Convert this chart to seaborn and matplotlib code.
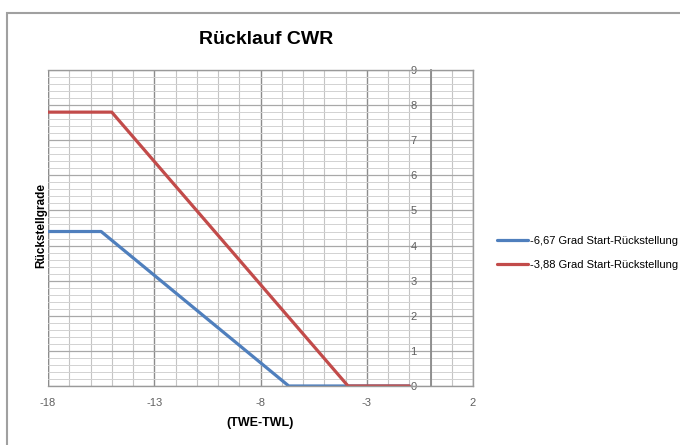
import pandas as pd
import matplotlib.pyplot as plt
from matplotlib.patches import Rectangle
from matplotlib.ticker import MultipleLocator
import seaborn as sns

# Daten
series_names = ["-6,67 Grad Start-Rückstellung", "-3,88 Grad Start-Rückstellung"]
x_blue = [-18, -15.5, -6.67, -1]
y_blue = [4.4, 4.4, 0, 0]
x_red = [-18, -15, -3.88, -1]
y_red = [7.8, 7.8, 0, 0]
x_ticks = [-18, -13, -8, -3, 2]
y_ticks = [0, 1, 2, 3, 4, 5, 6, 7, 8, 9]

df = pd.concat([
    pd.DataFrame({"x": x_blue, "y": y_blue, "serie": series_names[0]}),
    pd.DataFrame({"x": x_red, "y": y_red, "serie": series_names[1]}),
])

sns.set_theme(style="white")
plt.rcParams["font.family"] = ["Liberation Sans", "DejaVu Sans"]
plt.rcParams["axes.unicode_minus"] = False
plt.rcParams["text.color"] = "black"

fig = plt.figure(figsize=(6.8, 4.45), dpi=100)
ax = fig.add_axes([48 / 680, 1 - 386 / 445, 425 / 680, 316 / 445])

# Rahmen des Diagrammbereichs
fig.patches.append(Rectangle((7 / 680, -0.1), 1.1, 1 - 13 / 445 + 0.1,
                             transform=fig.transFigure, fill=False,
                             edgecolor="#a0a0a0", linewidth=1.5))

sns.lineplot(data=df, x="x", y="y", hue="serie", sort=False, ax=ax,
             palette=["#4f7fbd", "#c24b4a"], linewidth=2.3, legend=False)

ax.set_xlim(-18, 2)
ax.set_ylim(0, 9)
ax.set_xticks(x_ticks)
ax.set_yticks(y_ticks)
ax.xaxis.set_minor_locator(MultipleLocator(1))
ax.yaxis.set_minor_locator(MultipleLocator(0.2))

ax.grid(which="major", axis="x", color="#8c8c8c", linewidth=1.0)
ax.grid(which="minor", axis="x", color="#c4c4c4", linewidth=0.8)
ax.grid(which="major", axis="y", color="#a8a8a8", linewidth=0.9)
ax.grid(which="minor", axis="y", color="#d2d2d2", linewidth=0.7)
ax.set_axisbelow(True)

for s in ["top", "right", "bottom"]:
    ax.spines[s].set_color("#9a9a9a")
    ax.spines[s].set_linewidth(1.0)
ax.spines["left"].set_position(("data", 0))
ax.spines["left"].set_color("#8a8a8a")
ax.spines["left"].set_linewidth(1.3)
# linker Rand bei -18
ax.axvline(-18, color="#9a9a9a", linewidth=1.0, zorder=0.5)

ax.tick_params(axis="both", which="both", length=0, labelsize=8, labelcolor="#606060")
ax.tick_params(axis="x", pad=9)
ax.tick_params(axis="y", pad=10)

ax.set_xlabel("(TWE-TWL)", fontsize=9, fontweight="bold", color="black", labelpad=6)
ax.set_ylabel("")
fig.text(41 / 680, 1 - 225 / 445, "Rückstellgrade", rotation=90, ha="center", va="center",
         fontsize=8.5, fontweight="bold", color="black")
fig.text(266 / 680, 1 - 40 / 445, "Rücklauf CWR", ha="center", va="center",
         fontsize=14, fontweight="bold", color="black")

handles = [plt.Line2D([], [], color=c, linewidth=2.3) for c in ["#4f7fbd", "#c24b4a"]]
fig.legend(handles, series_names, loc="center left", bbox_to_anchor=(497 / 680, 1 - 253 / 445),
           frameon=False, fontsize=8, handlelength=2.8, handletextpad=0.15,
           labelspacing=1.2, borderpad=0, borderaxespad=0, labelcolor="black")

plt.savefig("out.png", dpi=100)
